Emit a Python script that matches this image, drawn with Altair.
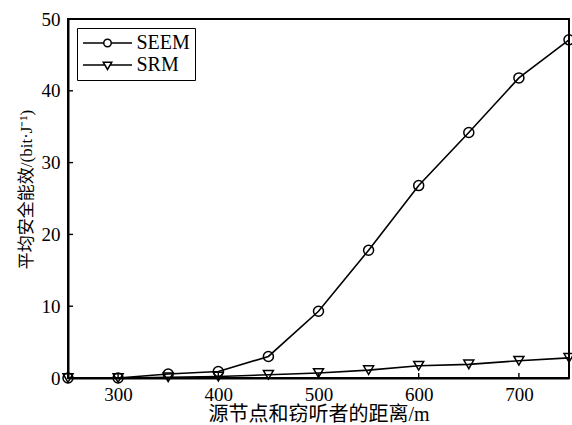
import altair as alt
import pandas as pd

distance = [250, 300, 350, 400, 450, 500, 550, 600, 650, 700, 750]
seem = [0.0, 0.0, 0.55, 0.9, 3.0, 9.3, 17.8, 26.8, 34.2, 41.8, 47.1]
srm = [0.0, 0.0, 0.1, 0.2, 0.45, 0.7, 1.1, 1.7, 1.9, 2.4, 2.8]
series_names = ["SEEM", "SRM"]
x_ticks = [300, 400, 500, 600, 700]
y_ticks = [0, 10, 20, 30, 40, 50]

rows = []
for d, a, b in zip(distance, seem, srm):
    rows.append({"distance": d, "value": a, "series": "SEEM"})
    rows.append({"distance": d, "value": b, "series": "SRM"})
df = pd.DataFrame(rows)

num_font = "Liberation Serif"
title_font = "Liberation Serif, Noto Sans CJK SC"

seem_path = "M-4.9,0L-0.75,0M0.75,0L4.9,0M0.75,0A0.75,0.75,0,1,1,-0.75,0A0.75,0.75,0,1,1,0.75,0Z"
srm_path = "M-4.9,0L-0.52,0M0.52,0L4.9,0M-0.85,-0.55L0.85,-0.55L0,0.9Z"

x_scale = alt.Scale(domain=[250, 750], nice=False, zero=False)
y_scale = alt.Scale(domain=[0, 50], nice=False)

x_axis = alt.Axis(
    title="源节点和窃听者的距离/m",
    values=x_ticks,
    ticks=False,
    labelPadding=7,
    titlePadding=0,
    titleFontSize=20,
)
y_axis = alt.Axis(
    title="平均安全能效/(bit·J⁻¹)",
    values=y_ticks,
    ticks=False,
    labelPadding=8,
    titlePadding=6,
    titleFontSize=17,
    titleY=170,
)

base = alt.Chart(df).encode(
    x=alt.X("distance:Q", scale=x_scale, axis=x_axis),
    y=alt.Y("value:Q", scale=y_scale, axis=y_axis),
)

lines = base.mark_line(color="black", strokeWidth=1.6).encode(
    detail="series:N"
)

points = base.mark_point(
    filled=False, color="black", size=100, strokeWidth=1.5, opacity=1
).encode(
    shape=alt.Shape(
        "series:N",
        scale=alt.Scale(domain=series_names, range=["circle", "triangle-down"]),
        legend=None,
    )
)

legend_layer = base.transform_filter("datum.distance < 0").mark_point(
    filled=False, color="black", size=100, strokeWidth=1.5
).encode(
    shape=alt.Shape(
        "series:N",
        scale=alt.Scale(domain=series_names, range=[seem_path, srm_path]),
        legend=alt.Legend(
            title=None,
            orient="top-left",
            offset=9,
            padding=5,
            strokeColor="black",
            fillColor="white",
            labelFont=num_font,
            labelFontSize=20,
            labelColor="black",
            symbolSize=100,
            symbolStrokeWidth=1.5,
            symbolStrokeColor="black",
            symbolFillColor="white",
            symbolOpacity=1,
            symbolOffset=15.5,
            labelOffset=19,
            rowPadding=2,
        ),
    )
)

y_tick_marks = alt.Chart(pd.DataFrame({"value": y_ticks})).mark_rule(
    color="black", strokeWidth=1.4
).encode(
    y=alt.Y("value:Q", scale=y_scale, axis=y_axis),
    x=alt.value(0),
    x2=alt.value(5),
)

x_tick_marks = alt.Chart(pd.DataFrame({"distance": x_ticks})).mark_rule(
    color="black", strokeWidth=1.4
).encode(
    x=alt.X("distance:Q", scale=x_scale, axis=x_axis),
    y=alt.value(359),
    y2=alt.value(354),
)

chart = (
    alt.layer(lines, points, legend_layer, y_tick_marks, x_tick_marks)
    .resolve_scale(shape="independent")
    .properties(
        width=501,
        height=359,
        padding={"left": 68, "top": 19, "right": 3, "bottom": 47},
        autosize=alt.AutoSizeParams(type="none"),
        background="white",
    )
    .configure_view(stroke="black", strokeWidth=2)
    .configure_axis(
        grid=False,
        domainColor="black",
        domainWidth=2,
        labelFont=num_font,
        labelFontSize=19,
        labelColor="black",
        titleFont=title_font,
        titleFontWeight="normal",
        titleColor="black",
    )
)

chart.save("out.html", embed_options={"renderer": "svg", "actions": False})
